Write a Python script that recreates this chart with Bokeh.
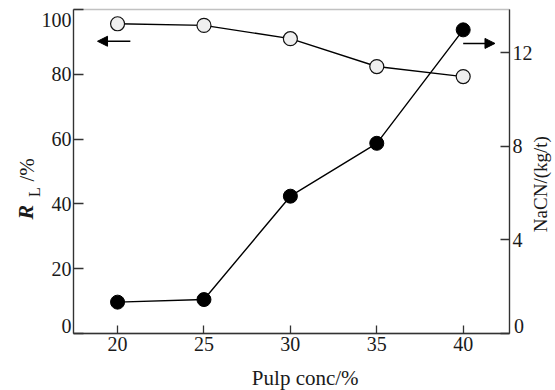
import math
from bokeh.plotting import figure
from bokeh.models import Range1d, LinearAxis, Label, Arrow, NormalHead, FixedTicker, BoxAnnotation
from bokeh.embed import file_html
from bokeh.resources import INLINE

# ---- data ----
pulp_conc = [20, 25, 30, 35, 40]
recovery_rl = [95.6, 95.1, 91.0, 82.4, 79.3]
nacn_use = [1.34, 1.45, 5.87, 8.13, 12.98]
x_ticks = [20, 25, 30, 35, 40]
left_ticks = [0, 20, 40, 60, 80, 100]
right_ticks = [0, 4, 8, 12]

FONT = "Liberation Serif"
INK = "#1a1a1a"
AX = "#333333"

# plot box in data units
X0, X1 = 17.45, 42.68
L0, L1 = 0, 100
R0, R1 = 0, 13.85

# full-canvas frame; the axes are pinned at the box edges
p = figure(width=555, height=390, output_backend="svg", toolbar_location=None,
           x_range=Range1d(13.226, 45.342), y_range=Range1d(-17.59, 102.78),
           min_border=0, background_fill_color="white", border_fill_color="white")
p.extra_y_ranges = {"right": Range1d(-2.437, 14.235)}
p.grid.visible = False
p.outline_line_color = None


def style_axis(ax, tick_in, standoff):
    ax.axis_line_color = AX
    ax.axis_line_width = 1.3
    ax.major_tick_line_color = AX
    ax.major_tick_line_width = 1.3
    ax.major_tick_in = tick_in
    ax.major_tick_out = 0
    ax.minor_tick_line_color = None
    ax.major_label_text_font = FONT
    ax.major_label_text_font_size = "20px"
    ax.major_label_text_color = INK
    ax.major_label_standoff = standoff


xa = p.xaxis[0]
xa.ticker = FixedTicker(ticks=x_ticks)
xa.fixed_location = L0
xa.bounds = (X0, X1)
style_axis(xa, 8, 3)

ya = p.yaxis[0]
ya.ticker = FixedTicker(ticks=left_ticks)
ya.fixed_location = X0
ya.bounds = (L0, L1)
style_axis(ya, 10, 2)
ya.major_label_overrides = {0: "", 100: ""}

ra = LinearAxis(y_range_name="right", ticker=FixedTicker(ticks=right_ticks))
ra.fixed_location = X1
ra.bounds = (R0, R1)
style_axis(ra, 9, 3)
ra.major_label_overrides = {0: ""}
p.add_layout(ra, "right")

# box outline
p.add_layout(BoxAnnotation(left=X0, right=X1, bottom=L0, top=L1, fill_color=None,
                           line_color=AX, line_width=1.3))

# ---- series ----
p.line(pulp_conc, nacn_use, y_range_name="right", line_color="black", line_width=1.4)
p.scatter(pulp_conc, nacn_use, y_range_name="right", size=14,
          fill_color="black", line_color="black")
p.line(pulp_conc, recovery_rl, line_color="black", line_width=1.4)
p.scatter(pulp_conc, recovery_rl, size=14, fill_color="#efefef",
          line_color="#111111", line_width=1.2)

# ---- arrows ----
p.add_layout(Arrow(end=NormalHead(size=10, fill_color="black", line_color="black"),
                   x_start=20.74, y_start=90.2, x_end=18.84, y_end=90.2,
                   line_color="black", line_width=1.5))
p.add_layout(Arrow(end=NormalHead(size=10, fill_color="black", line_color="black"),
                   x_start=40.0, y_start=12.4, x_end=41.84, y_end=12.4,
                   y_range_name="right", line_color="black", line_width=1.5))

# ---- shifted end tick labels ----
p.add_layout(Label(x=17.33, y=2.47, text="0", text_align="right", text_baseline="middle",
                   text_font=FONT, text_font_size="20px", text_color=INK))
p.add_layout(Label(x=17.33, y=96.9, text="100", text_align="right", text_baseline="middle",
                   text_font=FONT, text_font_size="20px", text_color=INK))
p.add_layout(Label(x=42.94, y=2.47, text="0", text_align="left", text_baseline="middle",
                   text_font=FONT, text_font_size="20px", text_color=INK))

# ---- axis titles ----
p.add_layout(Label(x=30.86, y=-13.6, text="Pulp conc/%", text_align="center",
                   text_baseline="middle", text_font=FONT, text_font_size="21px",
                   text_color=INK))

rot = math.pi / 2
p.add_layout(Label(x=14.673, y=35.19, text="R", angle=rot, text_align="left",
                   text_baseline="middle", text_font=FONT, text_font_size="22px",
                   text_font_style="bold italic", text_color=INK))
p.add_layout(Label(x=15.17, y=42.1, text="L", angle=rot, text_align="left",
                   text_baseline="middle", text_font=FONT, text_font_size="16px",
                   text_color=INK))
p.add_layout(Label(x=14.788, y=46.92, text="/%", angle=rot, text_align="left",
                   text_baseline="middle", text_font=FONT, text_font_size="21px",
                   text_color=INK))

p.add_layout(Label(x=44.5, y=46.1, text="NaCN/(kg/t)", angle=rot, text_align="center",
                   text_baseline="middle", text_font=FONT, text_font_size="19px",
                   text_color=INK))

open("out.html", "w").write(file_html(p, INLINE))
